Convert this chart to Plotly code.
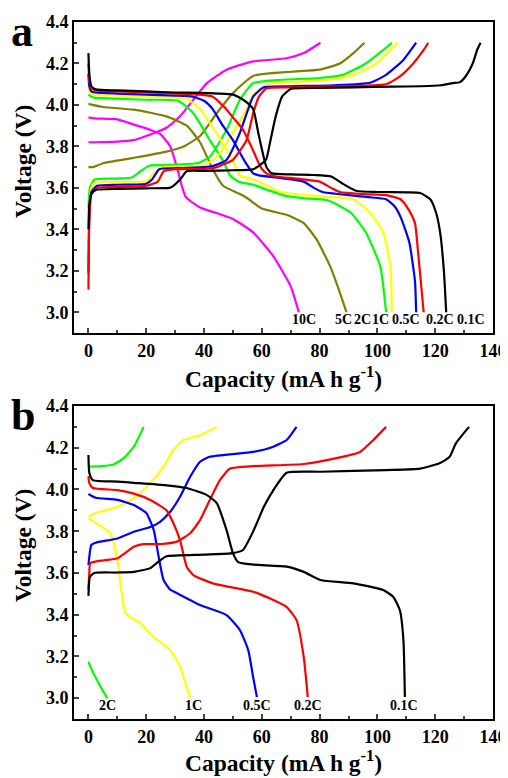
import plotly.graph_objects as go

# ---------------- Panel a data (capacity mA h g-1, voltage V) ----------------
rates_a = ["10C", "5C", "2C", "1C", "0.5C", "0.2C", "0.1C"]
colors_a = ["#FF00FF", "#808000", "#00FF00", "#FFFF00", "#0000FF", "#FF0000", "#000000"]

# discharge curves
a_d_10_cap = [0, 2, 10, 15.7, 21.4, 24.8, 28.3, 30.6, 32.3, 33.5, 34.5, 38.6, 44, 50, 57, 64, 70, 72.8]
a_d_10_v = [3.94, 3.935, 3.93, 3.905, 3.88, 3.86, 3.80, 3.70, 3.61, 3.56, 3.545, 3.505, 3.48, 3.45, 3.385, 3.27, 3.125, 3.0]
a_d_5_cap = [0, 5, 15.7, 27, 34, 38.6, 43, 46.6, 52.4, 55, 60, 68.6, 74.5, 79, 83.7, 87, 89.3]
a_d_5_v = [4.005, 3.99, 3.977, 3.945, 3.90, 3.82, 3.69, 3.61, 3.57, 3.55, 3.50, 3.47, 3.43, 3.35, 3.22, 3.095, 3.0]
a_d_2_cap = [0, 1, 2, 10, 20, 31, 36.3, 42, 46.6, 49, 52, 57, 62, 68.6, 74.5, 82.8, 90.8, 96, 101, 103]
a_d_2_v = [4.05, 4.04, 4.035, 4.03, 4.025, 4.02, 3.96, 3.83, 3.73, 3.66, 3.63, 3.615, 3.59, 3.56, 3.55, 3.54, 3.48, 3.385, 3.22, 3.0]
a_d_1_cap = [0, 0.5, 2, 10, 20, 30, 34, 38.6, 44, 50, 52.4, 57, 62, 66.5, 75, 85, 91.7, 97.5, 102, 104.5, 105]
a_d_1_v = [4.10, 4.06, 4.05, 4.045, 4.04, 4.035, 4.03, 3.98, 3.87, 3.73, 3.66, 3.64, 3.61, 3.58, 3.565, 3.555, 3.545, 3.48, 3.385, 3.22, 3.0]
a_d_05_cap = [0, 0.3, 1, 2.5, 10, 20, 30, 36, 40, 43, 46.5, 50, 54, 57, 59, 65, 74.5, 78, 81, 90, 97, 103, 106, 108, 111, 113, 113.4]
a_d_05_v = [4.15, 4.09, 4.065, 4.06, 4.055, 4.05, 4.045, 4.04, 4.02, 3.98, 3.90, 3.83, 3.73, 3.67, 3.66, 3.65, 3.63, 3.60, 3.58, 3.565, 3.555, 3.545, 3.51, 3.46, 3.34, 3.15, 3.0]
a_d_02_cap = [0, 0.3, 1, 2.5, 10, 20, 30, 38, 43, 47, 50, 53.5, 57, 59.6, 61.6, 65, 72, 80, 84, 87, 95, 103, 108, 111, 113, 114, 115, 116]
a_d_02_v = [4.20, 4.12, 4.08, 4.07, 4.065, 4.06, 4.055, 4.05, 4.04, 3.99, 3.94, 3.88, 3.78, 3.70, 3.67, 3.655, 3.645, 3.63, 3.60, 3.58, 3.57, 3.565, 3.545, 3.49, 3.43, 3.30, 3.15, 3.0]
a_d_01_cap = [0, 0.3, 1, 2.5, 10, 20, 30, 38.6, 45, 50, 53, 55, 57, 59, 61.6, 63.4, 70, 78, 84, 88, 92.8, 100, 110, 114.8, 118.3, 120.3, 121.7, 123, 123.8]
a_d_01_v = [4.25, 4.15, 4.09, 4.075, 4.07, 4.065, 4.06, 4.058, 4.055, 4.05, 4.03, 4.01, 3.98, 3.85, 3.70, 3.67, 3.665, 3.662, 3.655, 3.62, 3.585, 3.58, 3.578, 3.575, 3.545, 3.48, 3.385, 3.2, 3.0]

# charge curves
a_c_10_cap = [0, 2.5, 10, 15.7, 21.4, 27, 31.7, 36.3, 41, 47.8, 57, 68.6, 74.5, 80.3]
a_c_10_v = [3.82, 3.82, 3.823, 3.83, 3.857, 3.89, 3.945, 4.025, 4.105, 4.17, 4.21, 4.225, 4.25, 4.30]
a_c_5_cap = [0, 1.5, 5.3, 15.7, 27, 33, 38.6, 44.4, 50, 57, 70, 80, 87, 91.7, 95.5]
a_c_5_v = [3.70, 3.70, 3.72, 3.745, 3.775, 3.80, 3.85, 3.96, 4.057, 4.14, 4.16, 4.17, 4.20, 4.25, 4.30]
a_c_2_cap = [0, 0.5, 2, 10, 15, 18, 21, 30, 38, 42, 47.8, 52.4, 57, 65, 80, 88, 96, 102, 105]
a_c_2_v = [3.50, 3.60, 3.64, 3.645, 3.65, 3.68, 3.707, 3.712, 3.72, 3.75, 3.88, 4.025, 4.105, 4.12, 4.13, 4.145, 4.20, 4.265, 4.30]
a_c_1_cap = [0, 0.3, 1, 2, 10, 20, 22.5, 25, 30, 40, 44.4, 50, 54.7, 57, 62, 70, 82.5, 91.7, 99.7, 104.5, 106.9]
a_c_1_v = [3.32, 3.50, 3.60, 3.625, 3.628, 3.632, 3.67, 3.70, 3.703, 3.71, 3.75, 3.865, 3.98, 4.05, 4.10, 4.11, 4.12, 4.145, 4.20, 4.265, 4.30]
a_c_05_cap = [0, 0.3, 1, 3, 10, 20, 22, 24.5, 30, 40, 43, 47.8, 52.4, 57, 60.7, 70, 85, 97.5, 103, 109, 113.4]
a_c_05_v = [3.19, 3.45, 3.58, 3.61, 3.615, 3.62, 3.64, 3.69, 3.695, 3.70, 3.705, 3.735, 3.865, 4.04, 4.085, 4.09, 4.095, 4.107, 4.145, 4.217, 4.30]
a_c_02_cap = [0, 0.3, 1, 3, 10, 20, 24, 26, 30, 40, 44.5, 47, 50, 54.7, 57, 59, 61.6, 70, 85, 103, 108, 112.4, 116, 117.6]
a_c_02_v = [3.11, 3.45, 3.57, 3.60, 3.605, 3.61, 3.63, 3.68, 3.69, 3.692, 3.70, 3.715, 3.735, 3.83, 3.96, 4.04, 4.08, 4.085, 4.09, 4.10, 4.14, 4.20, 4.265, 4.30]
a_c_01_cap = [0, 0.3, 1, 2.5, 10, 20, 28, 29.4, 31.7, 34, 40, 50, 57, 61.4, 63, 64.8, 67, 70, 80, 91.7, 105, 115, 122, 126, 128.6, 130.5, 133, 134.5, 135.7]
a_c_01_v = [3.40, 3.52, 3.57, 3.59, 3.595, 3.598, 3.60, 3.61, 3.64, 3.68, 3.682, 3.685, 3.69, 3.735, 3.83, 3.945, 4.04, 4.077, 4.082, 4.085, 4.088, 4.09, 4.095, 4.105, 4.11, 4.137, 4.20, 4.265, 4.30]

a_discharge = [(a_d_10_cap, a_d_10_v), (a_d_5_cap, a_d_5_v), (a_d_2_cap, a_d_2_v), (a_d_1_cap, a_d_1_v),
               (a_d_05_cap, a_d_05_v), (a_d_02_cap, a_d_02_v), (a_d_01_cap, a_d_01_v)]
a_charge = [(a_c_10_cap, a_c_10_v), (a_c_5_cap, a_c_5_v), (a_c_2_cap, a_c_2_v), (a_c_1_cap, a_c_1_v),
            (a_c_05_cap, a_c_05_v), (a_c_02_cap, a_c_02_v), (a_c_01_cap, a_c_01_v)]
a_label_cap = [74.5, 88.3, 94.8, 101, 110, 121.5, 132.4]

# ---------------- Panel b data ----------------
rates_b = ["2C", "1C", "0.5C", "0.2C", "0.1C"]
colors_b = ["#00FF00", "#FFFF00", "#0000FF", "#FF0000", "#000000"]

b_d_2_cap = [0, 0.7, 3.5, 6.5]
b_d_2_v = [3.175, 3.15, 3.072, 3.0]
b_d_1_cap = [0, 2.5, 7.6, 9.3, 10.5, 11.3, 11.6, 12.8, 17.9, 22.5, 28.3, 31.7, 34, 35.2]
b_d_1_v = [3.863, 3.84, 3.79, 3.71, 3.614, 3.518, 3.50, 3.406, 3.36, 3.293, 3.23, 3.15, 3.053, 3.0]
b_d_05_cap = [0, 2.5, 10, 15.7, 20, 22.6, 24.3, 26, 28.3, 29.4, 38.6, 47.8, 52.4, 55.3, 57, 58.3]
b_d_05_v = [3.978, 3.96, 3.95, 3.925, 3.887, 3.805, 3.677, 3.566, 3.52, 3.512, 3.446, 3.398, 3.326, 3.23, 3.10, 3.005]
b_d_02_cap = [0, 0.3, 1.5, 10, 15.7, 21.4, 27, 29.4, 31.7, 34, 36.3, 43, 57, 64, 68.6, 72, 74.5, 75.9]
b_d_02_v = [4.064, 4.03, 4.007, 3.997, 3.98, 3.95, 3.90, 3.838, 3.757, 3.63, 3.59, 3.55, 3.51, 3.47, 3.436, 3.374, 3.197, 3.005]
b_d_01_cap = [0, 0.3, 1.5, 10, 15.7, 27, 34, 41, 44.4, 47.8, 50, 51.8, 57, 68.6, 74.5, 80.3, 91.7, 102, 105.5, 107.8, 109, 109.5]
b_d_01_v = [4.165, 4.08, 4.045, 4.038, 4.032, 4.02, 4.007, 3.973, 3.935, 3.805, 3.695, 3.652, 3.64, 3.63, 3.605, 3.566, 3.55, 3.518, 3.485, 3.42, 3.278, 3.005]

b_c_2_cap = [0, 1.3, 4.6, 8.7, 12.2, 15.7, 19.1]
b_c_2_v = [4.109, 4.11, 4.112, 4.12, 4.15, 4.205, 4.30]
b_c_1_cap = [0, 2.5, 10, 15.7, 21.4, 26, 29.4, 32.8, 38.6, 44.4]
b_c_1_v = [3.87, 3.887, 3.917, 3.958, 4.03, 4.109, 4.189, 4.237, 4.26, 4.30]
b_c_05_cap = [0, 0.5, 1, 2.5, 10, 15.7, 21.4, 24.8, 28.3, 31.7, 35.2, 38.6, 42, 57, 64, 68.6, 72]
b_c_05_v = [3.638, 3.70, 3.734, 3.745, 3.765, 3.797, 3.82, 3.845, 3.893, 3.965, 4.061, 4.133, 4.157, 4.18, 4.205, 4.237, 4.30]
b_c_02_cap = [0, 0.3, 0.6, 2.5, 10, 15.7, 19, 24.8, 30.6, 35.2, 38.6, 42, 45.5, 49, 57, 74.5, 85.8, 94, 98.6, 103]
b_c_02_v = [3.52, 3.60, 3.647, 3.655, 3.67, 3.725, 3.738, 3.738, 3.75, 3.79, 3.853, 3.95, 4.045, 4.10, 4.112, 4.122, 4.15, 4.18, 4.237, 4.30]
b_c_01_cap = [0, 0.5, 2, 10, 15.7, 21.4, 24.8, 27, 40, 50, 53.5, 57.2, 60.7, 64, 68.6, 80.3, 103, 114.8, 121.7, 125, 127.2, 131.7]
b_c_01_v = [3.49, 3.58, 3.60, 3.602, 3.605, 3.623, 3.66, 3.68, 3.688, 3.695, 3.71, 3.805, 3.917, 3.997, 4.08, 4.085, 4.093, 4.10, 4.127, 4.157, 4.222, 4.30]

b_discharge = [(b_d_2_cap, b_d_2_v), (b_d_1_cap, b_d_1_v), (b_d_05_cap, b_d_05_v),
               (b_d_02_cap, b_d_02_v), (b_d_01_cap, b_d_01_v)]
b_charge = [(b_c_2_cap, b_c_2_v), (b_c_1_cap, b_c_1_v), (b_c_05_cap, b_c_05_v),
            (b_c_02_cap, b_c_02_v), (b_c_01_cap, b_c_01_v)]
b_label_cap = [6.7, 36.4, 58.3, 75.9, 109.3]

label_v = 2.965
x_ticks = [0, 20, 40, 60, 80, 100, 120, 140]
y_ticks = [3.0, 3.2, 3.4, 3.6, 3.8, 4.0, 4.2, 4.4]

FONT = "Times New Roman, Liberation Serif, serif"
W, H = 508, 778
OFF = 8  # page body margin compensation (px)


def px_x(x):
    return (x - OFF) / W


def px_y(y):
    return 1 - (y - OFF) / H


fig = go.Figure()


def add_curves(discharge, charge, colors, xa, ya):
    for (dc, dv), (cc, cv), col in zip(discharge, charge, colors):
        for xs, ys in ((cc, cv), (dc, dv)):
            fig.add_trace(go.Scatter(x=xs, y=ys, mode="lines", xaxis=xa, yaxis=ya,
                                     line=dict(color=col, width=2.2, shape="spline", smoothing=0.5),
                                     showlegend=False, hoverinfo="skip"))


add_curves(a_discharge, a_charge, colors_a, "x", "y")
add_curves(b_discharge, b_charge, colors_b, "x2", "y2")

tickfont = dict(family=FONT, size=18, color="black", weight="bold")


def xaxis_cfg(anchor):
    return dict(domain=[px_x(74), px_x(493)], anchor=anchor, range=[-5, 140],
                tickvals=x_ticks, ticks="inside", ticklen=5, tickwidth=2,
                minor=dict(ticks="inside", ticklen=3, tickwidth=1.5, dtick=10, tick0=0),
                showline=True, linewidth=2, linecolor="black", mirror=True,
                showgrid=False, zeroline=False, tickfont=tickfont, fixedrange=True,
                automargin=False)


def yaxis_cfg(top, bottom, anchor):
    return dict(domain=[px_y(bottom), px_y(top)], anchor=anchor, range=[2.9, 4.4],
                tickvals=y_ticks, tickformat=".1f", ticks="inside", ticklen=5, tickwidth=2,
                minor=dict(ticks="inside", ticklen=3, tickwidth=1.5, dtick=0.1, tick0=2.9),
                showline=True, linewidth=2, linecolor="black", mirror=True,
                showgrid=False, zeroline=False, tickfont=tickfont, fixedrange=True,
                automargin=False)


fig.update_layout(
    width=W, height=H,
    margin=dict(l=0, r=0, t=0, b=0, autoexpand=False),
    paper_bgcolor="white", plot_bgcolor="white",
    xaxis=xaxis_cfg("y"),
    yaxis=yaxis_cfg(22, 333, "x"),
    xaxis2=xaxis_cfg("y2"),
    yaxis2=yaxis_cfg(406, 719, "x2"),
)

annotations = []
lab_font = dict(family=FONT, size=14, color="black", weight="bold")
for txt, cx in zip(rates_a, a_label_cap):
    annotations.append(dict(x=cx, y=label_v, xref="x", yref="y", text=txt, showarrow=False,
                            font=lab_font, xanchor="center", yanchor="middle"))
for txt, cx in zip(rates_b, b_label_cap):
    annotations.append(dict(x=cx, y=label_v, xref="x2", yref="y2", text=txt, showarrow=False,
                            font=lab_font, xanchor="center", yanchor="middle"))

title_font = dict(family=FONT, size=23.5, color="black", weight="bold")
for yc in (377, 761):
    annotations.append(dict(x=px_x(283.5), y=px_y(yc), xref="paper", yref="paper",
                            text="Capacity (mA h g<sup>-1</sup>)", showarrow=False,
                            font=title_font, xanchor="center", yanchor="middle", borderpad=0))
for yc in (162, 546):
    annotations.append(dict(x=px_x(23), y=px_y(yc), xref="paper", yref="paper",
                            text="Voltage (V)", textangle=-90, showarrow=False,
                            font=title_font, xanchor="center", yanchor="middle"))

panel_font = dict(family=FONT, size=44, color="black", weight="bold")
annotations.append(dict(x=px_x(22), y=px_y(31), xref="paper", yref="paper", text="a",
                        showarrow=False, font=panel_font, xanchor="center", yanchor="middle",
                        borderpad=0))
annotations.append(dict(x=px_x(23), y=px_y(415), xref="paper", yref="paper", text="b",
                        showarrow=False, font=panel_font, xanchor="center", yanchor="middle",
                        borderpad=0))

fig.update_layout(annotations=annotations)
fig.write_html("out.html")
